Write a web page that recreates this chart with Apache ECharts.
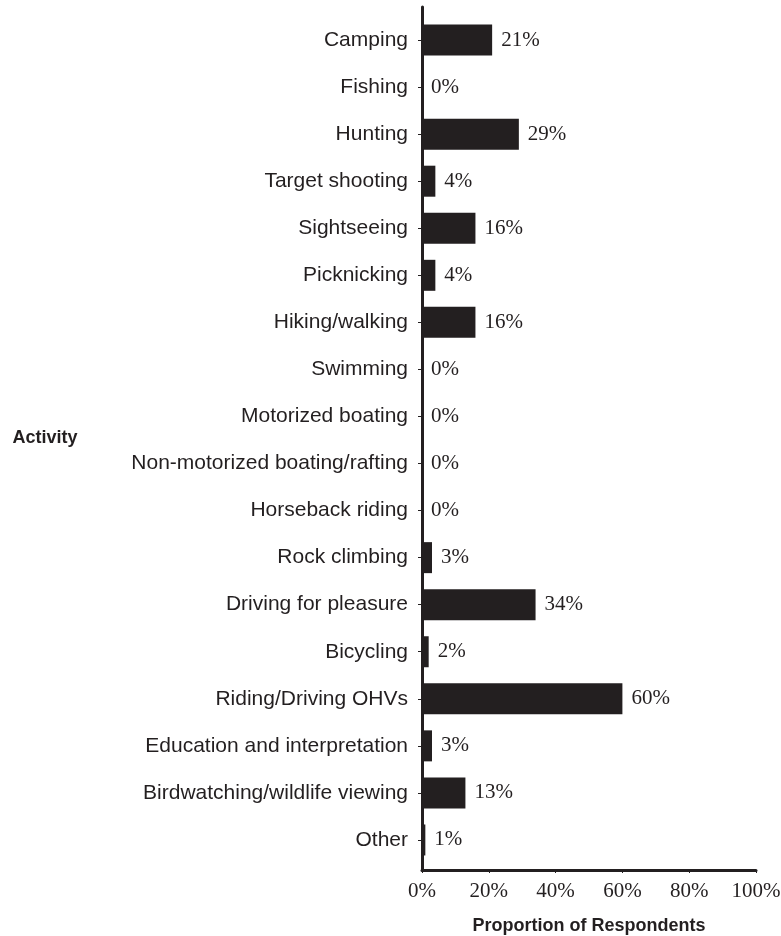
<!DOCTYPE html>
<html>
<head>
<meta charset="utf-8">
<script src="https://cdn.jsdelivr.net/npm/echarts@6/dist/echarts.min.js"></script>
<style>
  html, body { margin: 0; padding: 0; background: #fff; }
  #chart { width: 781px; height: 936px; }
</style>
</head>
<body>
<div id="chart"></div>
<script>
  // activities, top to bottom
  const activities = [
    'Camping', 'Fishing', 'Hunting', 'Target shooting', 'Sightseeing',
    'Picknicking', 'Hiking/walking', 'Swimming', 'Motorized boating',
    'Non-motorized boating/rafting', 'Horseback riding', 'Rock climbing',
    'Driving for pleasure', 'Bicycling', 'Riding/Driving OHVs',
    'Education and interpretation', 'Birdwatching/wildlife viewing', 'Other'
  ]
  // percent of respondents
  const shares = [21, 0, 29, 4, 16, 4, 16, 0, 0, 0, 0, 3, 34, 2, 60, 3, 13, 1]
  const xTicks = [0, 20, 40, 60, 80, 100]

  const ink = '#231f20'
  const sans = '"Liberation Sans", Arial, sans-serif'
  const serif = '"Liberation Serif", "Times New Roman", serif'

  const chart = echarts.init(document.getElementById('chart'))

  chart.setOption({
    animation: false,
    grid: [
      // bars + category labels
      { left: 422, width: 334, top: 16.5, bottom: 72.5, outerBoundsMode: 'none' },
      // frame with the axis lines and x ticks
      { left: 422, width: 334, top: 7, bottom: 66, outerBoundsMode: 'none' }
    ],
    xAxis: [{
      gridIndex: 0,
      type: 'value',
      min: xTicks[0],
      max: xTicks[xTicks.length - 1],
      show: false
    }, {
      gridIndex: 1,
      type: 'value',
      min: xTicks[0],
      max: xTicks[xTicks.length - 1],
      interval: 20,
      name: 'Proportion of Respondents',
      nameLocation: 'middle',
      nameGap: 47,
      nameTextStyle: { fontFamily: sans, fontWeight: 'bold', fontSize: 18, color: ink },
      axisLine: { show: true, lineStyle: { color: ink, width: 3 } },
      axisTick: { show: true, length: 3, lineStyle: { color: ink } },
      splitLine: { show: false },
      axisLabel: {
        formatter: '{value}%',
        fontFamily: serif,
        fontSize: 21,
        color: ink,
        margin: 11
      }
    }],
    yAxis: [{
      gridIndex: 0,
      type: 'category',
      inverse: true,
      data: activities,
      axisLine: { show: false },
      axisTick: { show: true, alignWithLabel: true, length: 4, lineStyle: { color: ink } },
      axisLabel: { fontFamily: sans, fontSize: 21, color: ink, margin: 14 }
    }, {
      gridIndex: 1,
      type: 'value',
      min: 0,
      max: 1,
      name: 'Activity',
      nameLocation: 'middle',
      nameRotate: 0,
      nameGap: 377,
      nameTextStyle: { fontFamily: sans, fontWeight: 'bold', fontSize: 18, color: ink, align: 'center' },
      axisLine: { show: true, lineStyle: { color: ink, width: 3 } },
      axisTick: { show: false },
      axisLabel: { show: false },
      splitLine: { show: false }
    }],
    series: [{
      type: 'bar',
      xAxisIndex: 0,
      yAxisIndex: 0,
      data: shares,
      barWidth: 31,
      itemStyle: { color: ink },
      label: {
        show: true,
        position: 'right',
        distance: 9,
        formatter: '{c}%',
        fontFamily: serif,
        fontSize: 21,
        color: ink
      }
    }]
  })
</script>
</body>
</html>
